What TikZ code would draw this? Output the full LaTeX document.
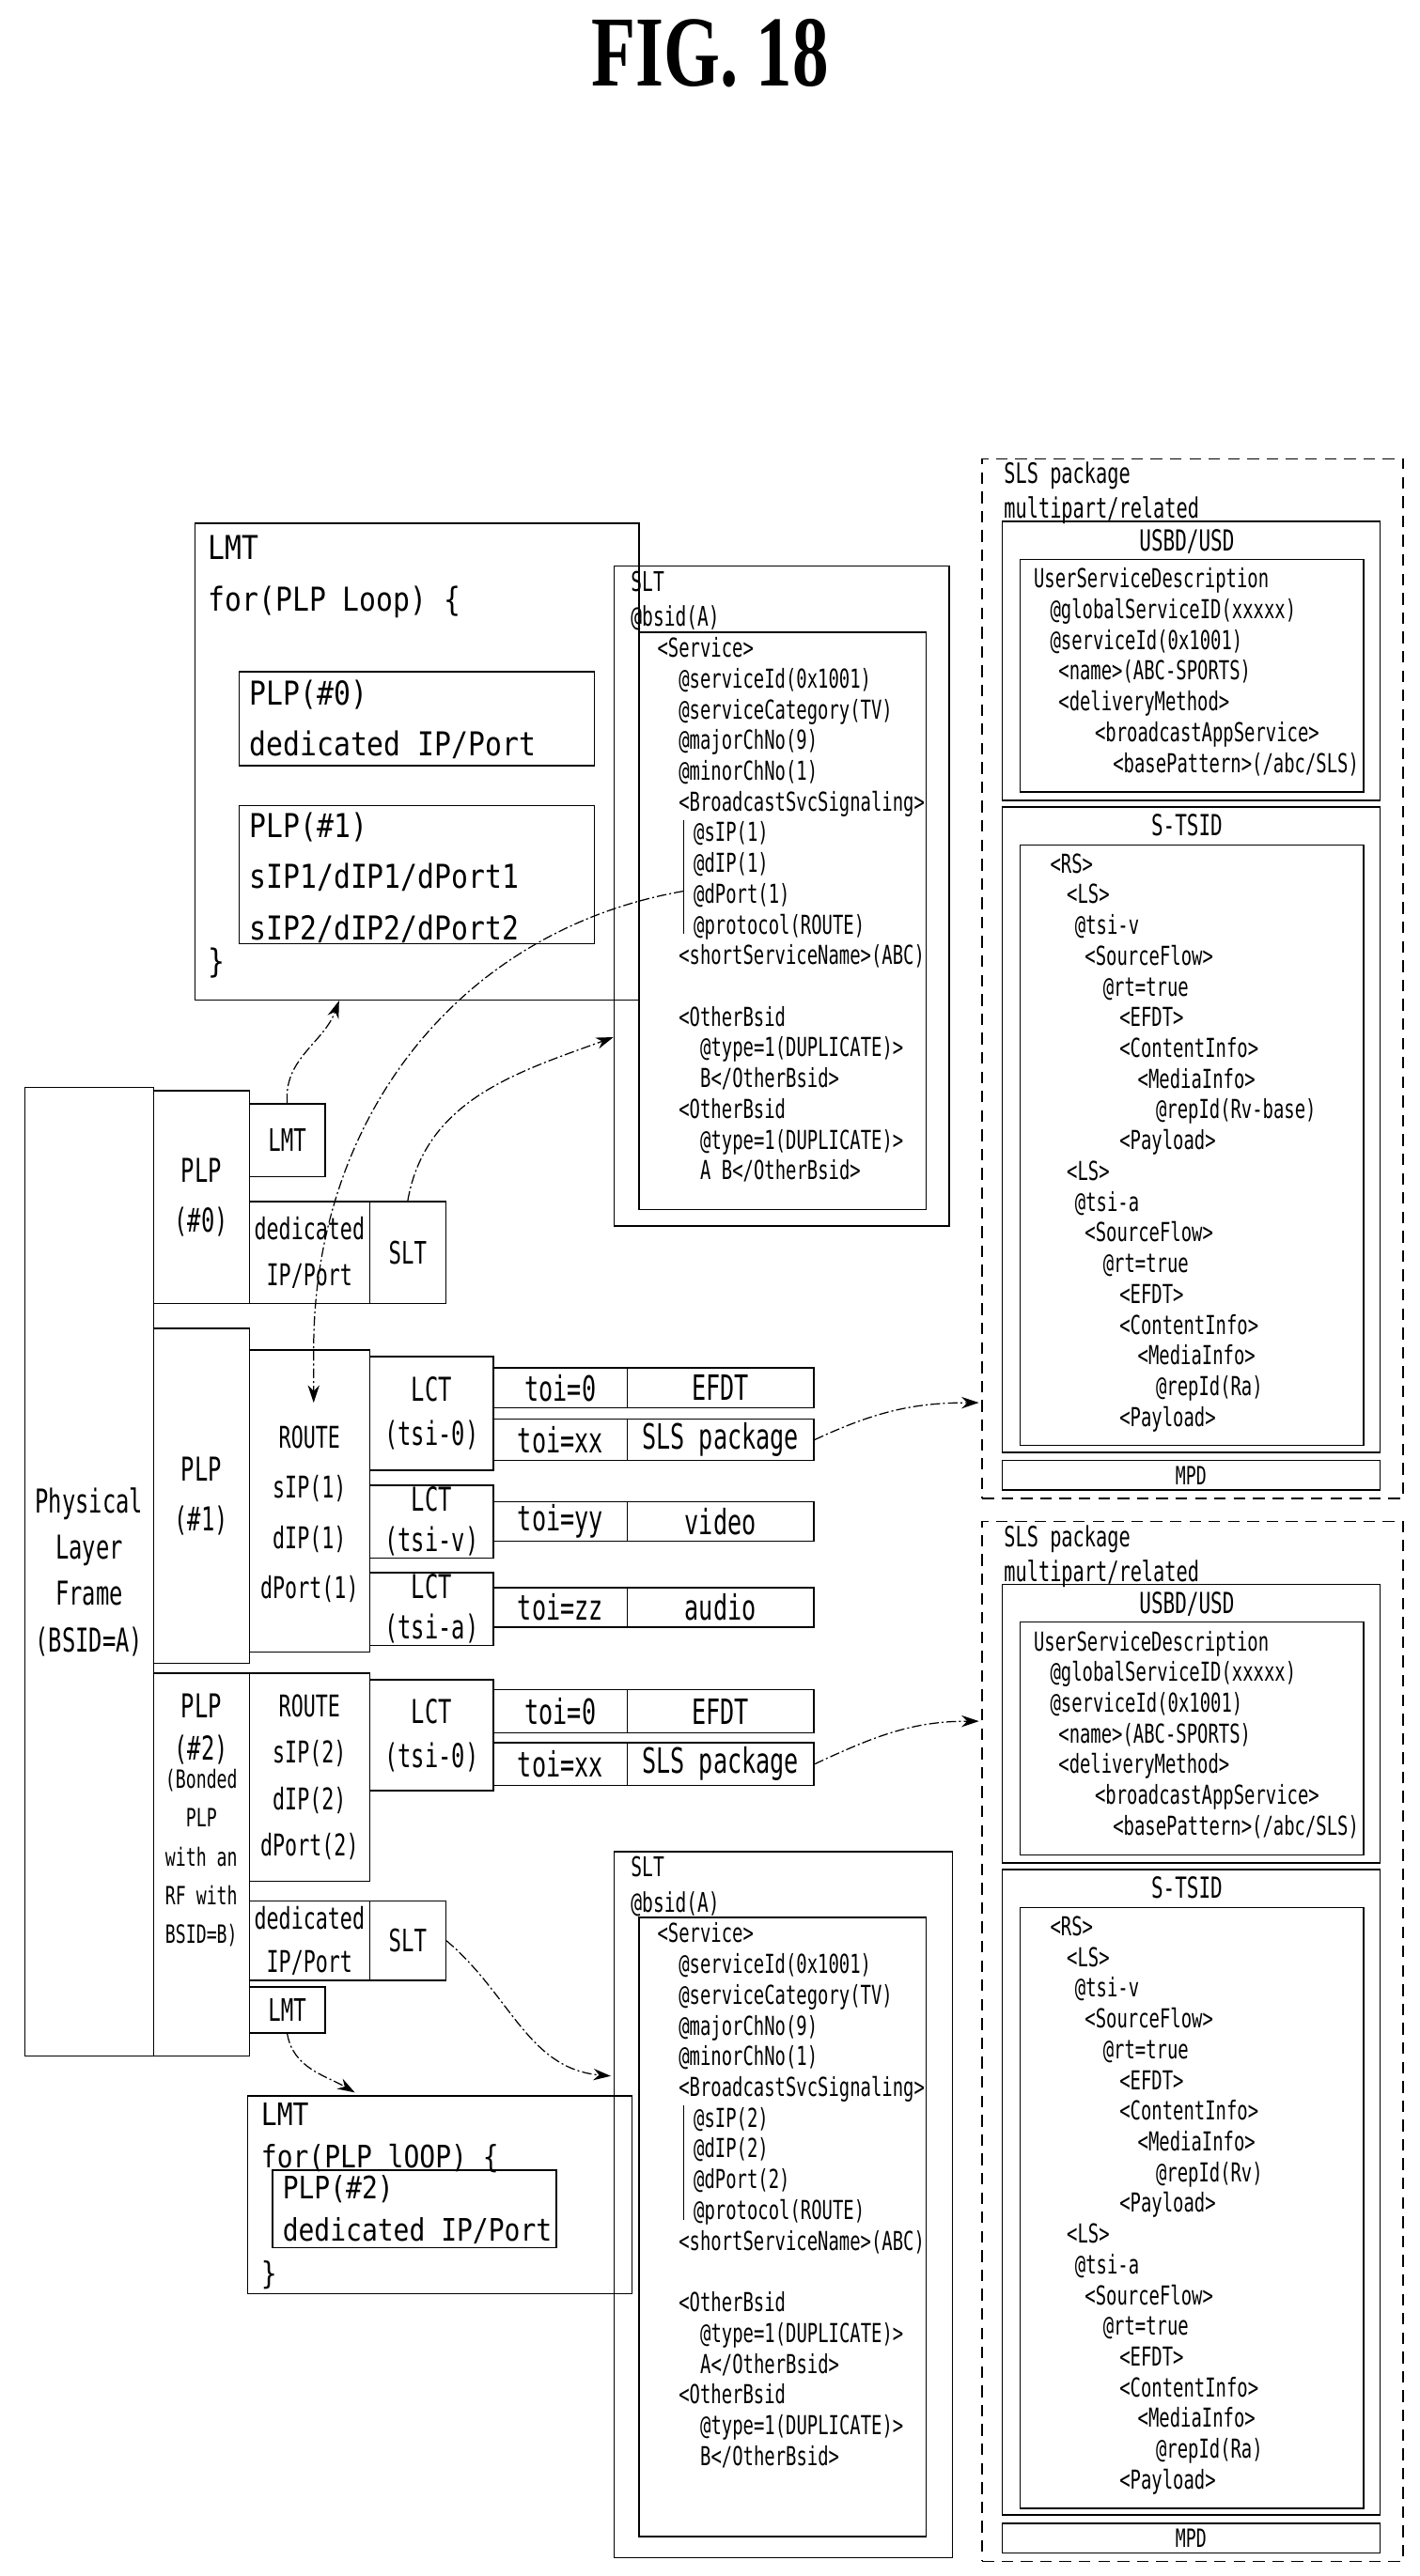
\documentclass[tikz,border=0pt]{standalone}
\usepackage{fontspec}
\setmainfont{DejaVu Sans Mono}[FakeStretch=0.68]
\newfontfamily\widefont{DejaVu Sans Mono}[FakeStretch=0.85]
\newfontfamily\titlefont{Liberation Serif}[FakeStretch=0.72]
\usetikzlibrary{positioning,fit,arrows.meta}
\newdimen\pxu \pxu=0.3mm
\newcommand\ind[1]{\hspace*{#1\pxu}}
\newcommand\fsz[2]{\fontsize{#1}{#2}\selectfont}
\tikzset{
  box/.style={draw,line width=0.7pt,inner sep=0pt,fit={#1}},
  pkg/.style={draw,line width=0.7pt,dashed,dash pattern=on 6pt off 4pt,inner sep=0pt,fit={#1}},
  lbl/.style={align=center,inner sep=0pt,font=\fsz{17}{26}},
  txt/.style={anchor=north west,inner sep=0pt,align=left,font=\fsz{13.5}{15.9}},
  link/.style={-{Stealth[length=9pt,width=6pt]},line width=0.6pt,dash pattern=on 5pt off 1.5pt on 1pt off 1.5pt}
}
% SLT text, args: no., first and second OtherBsid
\newcommand\sltlines[3]{%
<Service>\\
\ind{13}@serviceId(0x1001)\\
\ind{13}@serviceCategory(TV)\\
\ind{13}@majorChNo(9)\\
\ind{13}@minorChNo(1)\\
\ind{13}<BroadcastSvcSignaling>\\
\ind{22}@sIP(#1)\\
\ind{22}@dIP(#1)\\
\ind{22}@dPort(#1)\\
\ind{22}@protocol(ROUTE)\\
\ind{13}<shortServiceName>(ABC)\\
\mbox{}\\
\ind{13}<OtherBsid\\
\ind{26}@type=1(DUPLICATE)>\\
\ind{26}#2</OtherBsid>\\
\ind{13}<OtherBsid\\
\ind{26}@type=1(DUPLICATE)>\\
\ind{26}#3</OtherBsid>}
% USD text
\newcommand\usdlines{%
UserServiceDescription\\
\ind{10}@globalServiceID(xxxxx)\\
\ind{10}@serviceId(0x1001)\\
\ind{15}<name>(ABC-SPORTS)\\
\ind{15}<deliveryMethod>\\
\ind{37}<broadcastAppService>\\
\ind{48}<basePattern>(/abc/SLS)}
% S-TSID text, args: video and audio repId
\newcommand\tsidlines[2]{%
<RS>\\
\ind{10}<LS>\\
\ind{15}@tsi-v\\
\ind{21}<SourceFlow>\\
\ind{32}@rt=true\\
\ind{42}<EFDT>\\
\ind{42}<ContentInfo>\\
\ind{53}<MediaInfo>\\
\ind{64}@repId(#1)\\
\ind{42}<Payload>\\
\ind{10}<LS>\\
\ind{15}@tsi-a\\
\ind{21}<SourceFlow>\\
\ind{32}@rt=true\\
\ind{42}<EFDT>\\
\ind{42}<ContentInfo>\\
\ind{53}<MediaInfo>\\
\ind{64}@repId(#2)\\
\ind{42}<Payload>}

\begin{document}
\begin{tikzpicture}[x=0.3mm,y=-0.3mm]
  \useasboundingbox (0,0) rectangle (860,1561);
  \node[font=\titlefont\bfseries\fsz{52}{52}] (title) at (430,32) {FIG. 18};

  % physical layer frame
  \node[box={(15,659)(93,1246)}] (phy) {};
  \node[lbl,font=\fsz{17}{24}] at (phy.center) {Physical\\Layer\\Frame\\(BSID=A)};

  % PLP #0
  \node[box={(93,661)(151,790)}] (plpA) {};
  \node[lbl] at (plpA.center) {PLP\\(\#0)};
  \node[box={(151,669)(197,713)}] (lmtS) {};
  \node[lbl,font=\fsz{16}{20}] at (lmtS.center) {LMT};
  \node[box={(151,728)(224,790)}] (dedA) {};
  \node[lbl,font=\fsz{15.5}{24}] at (dedA.center) {dedicated\\IP/Port};
  \node[box={(224,728)(270,790)}] (sltS) {};
  \node[lbl,font=\fsz{16}{20}] at (sltS.center) {SLT};

  % PLP #1
  \node[box={(93,805)(151,1008)}] (plpB) {};
  \node[lbl] at (plpB.center) {PLP\\(\#1)};
  \node[box={(151,818)(224,1001)}] (routeA) {};
  \node[lbl,font=\fsz{15.5}{26}] at ([yshift=-8\pxu]routeA.center) {ROUTE\\sIP(1)\\dIP(1)\\dPort(1)};
  \node[box={(224,822)(299,891)}] (lctA) {};
  \node[lbl,font=\fsz{17}{23}] at (lctA.center) {LCT\\(tsi-0)};
  \node[box={(224,900)(299,944)}] (lctB) {};
  \node[lbl,font=\fsz{17}{21}] at (lctB.center) {LCT\\(tsi-v)};
  \node[box={(224,953)(299,997)}] (lctC) {};
  \node[lbl,font=\fsz{17}{21}] at (lctC.center) {LCT\\(tsi-a)};
  \foreach \nm/\ya/\yb/\ta/\tb in {A/829/853/toi=0/EFDT, X/860/885/toi=xx/SLS package,
      V/910/934/toi=yy/video, U/962/986/toi=zz/audio} {
    \node[box={(299,\ya)(380,\yb)}] (toi\nm) {};
    \node[lbl,font=\fsz{18}{20}] at (toi\nm.center) {\ta};
    \node[box={(380,\ya)(493,\yb)}] (obj\nm) {};
    \node[lbl,font=\fsz{18}{20}] at (obj\nm.center) {\tb};
  }

  % PLP #2
  \node[box={(93,1014)(151,1246)}] (plpC) {};
  \node[lbl,font=\fsz{17}{22},anchor=north] at (122,1026) {PLP\\(\#2)};
  \node[lbl,font=\fsz{13}{20},anchor=north] at (122,1072) {(Bonded\\PLP\\with an\\RF with\\BSID=B)};
  \node[box={(151,1014)(224,1140)}] (routeB) {};
  \node[lbl,font=\fsz{15.5}{24}] at (routeB.center) {ROUTE\\sIP(2)\\dIP(2)\\dPort(2)};
  \node[box={(224,1018)(299,1085)}] (lctD) {};
  \node[lbl,font=\fsz{17}{23}] at (lctD.center) {LCT\\(tsi-0)};
  \foreach \nm/\ya/\yb/\ta/\tb in {B/1024/1050/toi=0/EFDT, Y/1056/1082/toi=xx/SLS package} {
    \node[box={(299,\ya)(380,\yb)}] (toi\nm) {};
    \node[lbl,font=\fsz{18}{20}] at (toi\nm.center) {\ta};
    \node[box={(380,\ya)(493,\yb)}] (obj\nm) {};
    \node[lbl,font=\fsz{18}{20}] at (obj\nm.center) {\tb};
  }
  \node[box={(151,1152)(224,1200)}] (dedB) {};
  \node[lbl,font=\fsz{15.5}{22}] at (dedB.center) {dedicated\\IP/Port};
  \node[box={(224,1152)(270,1200)}] (sltS2) {};
  \node[lbl,font=\fsz{16}{20}] at (sltS2.center) {SLT};
  \node[box={(151,1204)(197,1232)}] (lmtS2) {};
  \node[lbl,font=\fsz{16}{20}] at (lmtS2.center) {LMT};

  % LMT tables
  \node[box={(118,317)(387,606)}] (lmtA) {};
  \node[txt,font=\widefont\fsz{17}{27}] at (126,324) {LMT\\for(PLP Loop) \{};
  \node[box={(145,407)(360,464)}] (lmtA0) {};
  \node[txt,font=\widefont\fsz{17}{26}] at (151,412) {PLP(\#0)\\dedicated IP/Port};
  \node[box={(145,488)(360,572)}] (lmtA1) {};
  \node[txt,font=\widefont\fsz{17}{26.5}] at (151,492) {PLP(\#1)\\sIP1/dIP1/dPort1\\sIP2/dIP2/dPort2};
  \node[txt,font=\widefont\fsz{17}{20}] at (126,574) {\}};
  \node[box={(150,1270)(383,1390)}] (lmtB) {};
  \node[txt,font=\widefont\fsz{16}{22}] at (158,1274) {LMT\\for(PLP lOOP) \{};
  \node[box={(165,1315)(337,1362)}] (lmtB2) {};
  \node[txt,font=\widefont\fsz{16}{22}] at (171,1318) {PLP(\#2)\\dedicated IP/Port};
  \node[txt,font=\widefont\fsz{16}{20}] at (158,1370) {\}};

  % SLT tables
  \node[box={(372,343)(575,743)}] (sltA) {};
  \node[txt,font=\fsz{14}{18}] at (382,346) {SLT\\@bsid(A)};
  \node[box={(387,383)(561,733)}] (sltA2) {};
  \node[txt] at (398,386) {\sltlines{1}{B}{A B}};
  \draw[line width=0.6pt] (414,497) -- (414,566);
  \coordinate (dport) at (414,540);
  \node[box={(372,1122)(577,1550)}] (sltB) {};
  \node[txt,font=\fsz{14}{18}] at (382,1125) {SLT\\@bsid(A)};
  \node[box={(387,1162)(561,1537)}] (sltB2) {};
  \node[txt] at (398,1165) {\sltlines{2}{A}{B}};
  \draw[line width=0.6pt] (414,1276) -- (414,1345);

  % SLS packages
  \foreach \nm/\dy/\rv in {A/0/Rv-base, B/644/Rv} {
    \begin{scope}[yshift=-\dy*0.3mm]
      \node[pkg={(595,278)(850,908)}] (sls\nm) {};
      \node[txt,font=\fsz{14.5}{18}] at (608,280) {SLS package\\multipart/related};
      \node[box={(607,316)(836,485)}] (usd\nm) {};
      \node[font=\fsz{15}{18},inner sep=0pt] at (719,328) {USBD/USD};
      \node[box={(618,339)(826,480)}] (usd\nm2) {};
      \node[txt] at (626,344) {\usdlines};
      \node[box={(607,489)(836,880)}] (tsid\nm) {};
      \node[font=\fsz{15}{18},inner sep=0pt] at (719,500) {S-TSID};
      \node[box={(618,512)(826,876)}] (tsid\nm2) {};
      \node[txt] at (636,517) {\tsidlines{\rv}{Ra}};
      \node[box={(607,885)(836,903)}] (mpd\nm) {};
      \node[font=\fsz{13}{15},inner sep=0pt] at (mpd\nm.center) {MPD};
    \end{scope}
  }
  \coordinate (slsAin) at (593,850);
  \coordinate (slsBin) at (593,1043);
  \coordinate (sltBin) at (370,1258);
  \coordinate (lmtBin) at (215,1268);

  % links
  \draw[link] (lmtS.north) to[out=95,in=-110] (lmtA.-108);
  \draw[link] (sltS.north) to[out=80,in=200] (sltA.220);
  \draw[link] (dport) to[out=190,in=90] (routeA.north -| 190,0) -- (190,850);
  \draw[link] (objX.east) to[out=25,in=180] (slsAin);
  \draw[link] (objY.east) to[out=25,in=180] (slsBin);
  \draw[link] (sltS2.east) to[out=-40,in=175] (sltBin);
  \draw[link] (lmtS2.south) to[out=-80,in=150] (lmtBin);
\end{tikzpicture}
\end{document}
